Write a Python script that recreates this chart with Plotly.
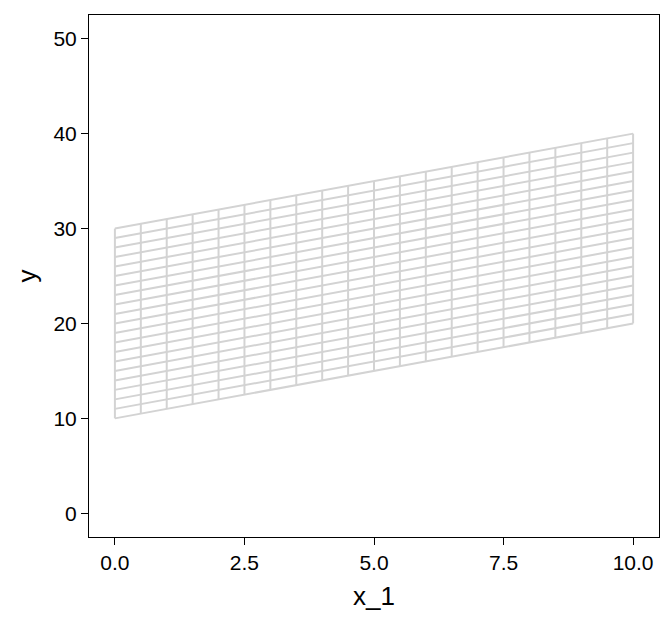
import plotly.graph_objects as go

# Data
x_values = [0.0, 0.5, 1.0, 1.5, 2.0, 2.5, 3.0, 3.5, 4.0, 4.5, 5.0,
            5.5, 6.0, 6.5, 7.0, 7.5, 8.0, 8.5, 9.0, 9.5, 10.0]
intercepts = [10, 11, 12, 13, 14, 15, 16, 17, 18, 19, 20,
              21, 22, 23, 24, 25, 26, 27, 28, 29, 30]
slope = 1.0
x_ticks = [0.0, 2.5, 5.0, 7.5, 10.0]
x_tick_labels = ["0.0", "2.5", "5.0", "7.5", "10.0"]
y_ticks = [0, 10, 20, 30, 40, 50]
y_tick_labels = ["0", "10", "20", "30", "40", "50"]

xs, ys = [], []
# lines of constant intercept
for c in intercepts:
    for x in x_values:
        xs.append(x)
        ys.append(slope * x + c)
    xs.append(None)
    ys.append(None)
# lines of constant x
for x in x_values:
    for c in (intercepts[0], intercepts[-1]):
        xs.append(x)
        ys.append(slope * x + c)
    xs.append(None)
    ys.append(None)

fig = go.Figure()
fig.add_trace(go.Scatter(x=xs, y=ys, mode="lines",
                         line=dict(color="#d3d3d3", width=2),
                         showlegend=False, hoverinfo="skip"))

FONT = "Liberation Sans, Arial, Helvetica"
axis_common = dict(showgrid=False, zeroline=False, showline=True, mirror=True,
                   linecolor="black", linewidth=1, ticks="outside", ticklen=7,
                   tickwidth=1, tickcolor="black", automargin=False,
                   tickfont=dict(family=FONT, size=21, color="black"))

fig.update_layout(
    width=664, height=616,
    margin=dict(l=81, r=13, t=7, b=87),
    plot_bgcolor="white", paper_bgcolor="white",
    font=dict(family=FONT, color="black"),
    xaxis=dict(range=[-0.5, 10.5], tickvals=x_ticks, ticktext=x_tick_labels,
               title=dict(text="x_1", font=dict(size=26), standoff=13), **axis_common),
    yaxis=dict(range=[-2.5, 52.5], tickvals=y_ticks, ticktext=y_tick_labels,
               title=dict(text="y", font=dict(size=26), standoff=9), **axis_common),
)

fig.write_html("out.html")
